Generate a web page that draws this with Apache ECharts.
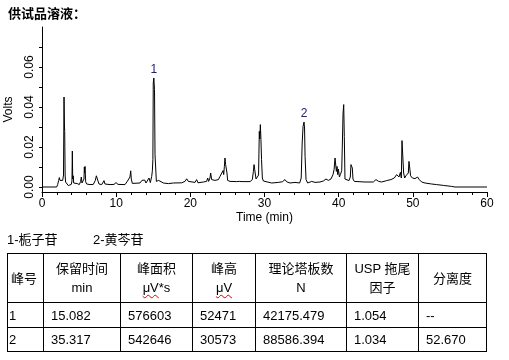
<!DOCTYPE html>
<html><head><meta charset="utf-8">
<script src="https://cdn.jsdelivr.net/npm/echarts@6/dist/echarts.min.js"></script>
<style>
html,body{margin:0;padding:0;background:#fff;}
#chart{position:absolute;left:0;top:0;width:509px;height:360px;}
.leg{position:absolute;top:231px;font:13px "Liberation Sans","Noto Sans CJK SC",sans-serif;line-height:18px;color:#000;white-space:nowrap;}
#tbl{position:absolute;left:7px;top:253px;border-collapse:collapse;table-layout:fixed;font:13px "Liberation Sans","Noto Sans CJK SC",sans-serif;color:#000;}
#tbl td{border:1px solid #000;padding:0 0 0 7px;white-space:nowrap;overflow:hidden;}
#tbl tr.h td{text-align:center;padding:0;line-height:19px;}
#tbl tr.h td.c0{text-align:left;padding-left:3px;}
#tbl td.c0{padding-left:1px;}
.wavy{text-decoration:underline wavy #e00000;text-decoration-thickness:1px;text-underline-offset:2px;}
</style>
</head><body>
<div id="chart"></div>
<div id="legA" class="leg" style="left:7px"></div>
<div id="legB" class="leg" style="left:93px"></div>
<table id="tbl"></table>
<script>
// ---- data ----
const titleText = '供试品溶液：';
const xTickLabels = [0, 10, 20, 30, 40, 50, 60];
const yTickLabels = [0.00, 0.02, 0.04, 0.06];
const yTickMarks = [0.00, 0.01, 0.02, 0.03, 0.04, 0.05, 0.06, 0.07];

const seg1 = [[0,0],[1.98,0],[2.11,0.0012],[2.25,0.0033],[2.34,0.0047],[2.43,0.0033],[2.52,0.0043],[2.61,0.003],[2.79,0.0033],[2.9,0.006],[2.97,0.045],[3.03,0.03],[3.06,0.0278],[3.12,0.006],[3.18,0.0025],[3.28,0.0015],[3.55,0.0007],[3.78,0.001],[3.95,0.0013],[4.04,0.003],[4.09,0.018],[4.14,0.004],[4.18,0.0035],[4.22,0.0056],[4.27,0.002],[4.31,0.0017],[4.76,0.0017],[5.03,0.0012],[5.21,0.0028],[5.30,0.005],[5.39,0.002],[5.57,0.0028],[5.66,0.004],[5.71,0.01],[5.75,0.007],[5.80,0.0103],[5.89,0.0026],[6.02,0.0015],[6.47,0.0012],[6.92,0.0013],[7.19,0.0033],[7.33,0.0056],[7.42,0.0061],[7.51,0.0035],[7.69,0.0015],[8.05,0.0012],[8.3,0.0015],[8.36,0.0032],[8.49,0.0015],[9.17,0.0012],[9.71,0.0013],[9.98,0.0022],[10.25,0.0013],[11.19,0.0012],[11.46,0.0026],[11.64,0.002],[11.86,0.005],[11.96,0.0081],[12.04,0.004],[12.18,0.0018],[13.21,0.002],[13.48,0.0033],[13.66,0.0043],[13.84,0.0035],[14.02,0.002],[14.25,0.0028],[14.43,0.0045],[14.61,0.0022],[14.79,0.0053],[14.88,0.0081],[14.95,0.0137]];
const seg2 = [[15.0,0.052],[15.08,0.0545],[15.17,0.0487],[15.24,0.0161],[15.33,0.0157],[15.42,0.0028],[15.55,0.0023],[15.73,0.0033],[15.87,0.0023],[16.36,0.002],[17.04,0.0017],[17.71,0.002],[18.83,0.0021],[19.28,0.0028],[19.51,0.0041],[19.73,0.0028],[19.96,0.002],[20.63,0.0023],[20.85,0.0037],[21.03,0.0021],[21.75,0.0025],[22.2,0.0028],[22.34,0.0045],[22.47,0.0028],[22.65,0.0045],[22.74,0.007],[22.88,0.0037],[23.33,0.0033],[23.55,0.004],[23.78,0.0037],[24.0,0.0053],[24.14,0.0062],[24.23,0.0045],[24.41,0.0082],[24.5,0.0062],[24.59,0.0103],[24.67,0.0145],[24.76,0.0112],[24.85,0.012],[24.94,0.007],[25.03,0.0033],[25.35,0.0028],[26.25,0.0027],[26.6,0.0028],[26.79,0.0035],[26.97,0.0027],[28.05,0.0027],[28.36,0.0037],[28.5,0.0078],[28.59,0.0112],[28.68,0.0087],[28.77,0.0078],[28.86,0.004],[29.04,0.0033],[29.2,0.006],[29.3,0.0278],[29.36,0.024],[29.44,0.0312],[29.52,0.0237],[29.6,0.0137],[29.71,0.0045],[29.85,0.003]];
const seg3 = [[30.07,0.002],[30.96,0.002],[31.86,0.0023],[32.4,0.0026],[32.76,0.0037],[32.99,0.0026],[33.44,0.002],[34.11,0.0023],[34.74,0.002],[34.95,0.0045],[35.08,0.022],[35.2,0.0303],[35.33,0.0325],[35.4,0.0295],[35.47,0.0153],[35.6,0.0037],[35.82,0.002],[36.36,0.0028],[36.54,0.0033],[36.81,0.0023],[37.48,0.0025],[37.93,0.003],[38.29,0.004],[38.61,0.0033],[38.96,0.004],[39.24,0.0062],[39.38,0.0087],[39.51,0.0145],[39.6,0.0137],[39.69,0.0078],[39.78,0.0103],[39.87,0.0062],[39.96,0.009],[40.1,0.005],[40.23,0.0062],[40.41,0.0082],[40.5,0.022],[40.59,0.0367],[40.68,0.0412],[40.76,0.0253],[40.85,0.004],[41.03,0.0032],[41.39,0.0032],[41.57,0.005],[41.66,0.0112],[41.75,0.0117],[41.84,0.0095],[41.93,0.004],[42.11,0.0028],[43.55,0.0025],[44.67,0.0025],[45.03,0.0037],[45.2,0.0042],[45.39,0.0028]];
const seg4 = [[45.8,0.0025],[46.47,0.0032],[47.05,0.0037],[47.5,0.0045],[47.82,0.0062],[47.95,0.0067],[48.13,0.005],[48.32,0.0073],[48.45,0.0045],[48.54,0.0232],[48.67,0.023],[48.76,0.007],[48.9,0.0045],[49.07,0.0056],[49.25,0.0062],[49.39,0.007],[49.48,0.0128],[49.61,0.0128],[49.7,0.0056],[49.93,0.0045],[50.29,0.0042],[50.65,0.005],[50.87,0.0037],[51.19,0.0025],[51.64,0.002],[52.54,0.0015],[53.21,0.0012],[54.11,0.0008],[55.23,0.0003],[55.68,0],[60,0]];

const peakNames = ['1', '2'];
const peakTimes = [15.08, 35.33];
const peakHeights = [0.0545, 0.0325];

const legendTexts = ['1-栀子苷', '2-黄芩苷'];
const headerLine1 = ['峰号', '保留时间', '峰面积', '峰高', '理论塔板数', 'USP 拖尾', '分离度'];
const headerLine2 = ['', 'min', 'μV*s', 'μV', 'N', '因子', ''];
const row1 = ['1', '15.082', '576603', '52471', '42175.479', '1.054', '--'];
const row2 = ['2', '35.317', '542646', '30573', '88586.394', '1.034', '52.670'];

// ---- layout ----
const colWidths = [36, 77, 72, 63, 91, 72, 68];
const signal = seg1.concat(seg2, seg3, seg4);

const chart = echarts.init(document.getElementById('chart'), null, {renderer: 'canvas'});
const font = '"Liberation Sans", Arial, sans-serif';
chart.setOption({
  animation: false,
  backgroundColor: '#fff',
  title: {text: titleText, left: 8, top: 7, padding: 0, textStyle: {fontSize: 13, fontWeight: 'bold', color: '#000', fontFamily: '"Noto Sans CJK SC"'}},
  grid: {left: 42, top: 27, width: 445, height: 165, containLabel: false, outerBoundsMode: 'none'},
  xAxis: {
    type: 'value', min: xTickLabels[0], max: xTickLabels[xTickLabels.length - 1], interval: 10,
    name: 'Time (min)', nameLocation: 'middle', nameGap: 20,
    nameTextStyle: {fontSize: 12, color: '#000', fontFamily: font},
    axisLine: {onZero: false, lineStyle: {color: '#000', width: 1}},
    axisTick: {show: true, length: 5, lineStyle: {color: '#000'}},
    minorTick: {show: true, splitNumber: 5, length: 3, lineStyle: {color: '#000'}},
    axisLabel: {fontSize: 12, color: '#000', margin: 6, fontFamily: font},
    splitLine: {show: false}, minorSplitLine: {show: false}
  },
  yAxis: {
    type: 'value', min: -0.0025, max: 0.08,
    name: 'Volts', nameLocation: 'middle', nameGap: 27,
    nameTextStyle: {fontSize: 12, color: '#000', fontFamily: font},
    axisLine: {show: true, lineStyle: {color: '#000', width: 1}},
    axisTick: {show: true, length: 3, customValues: yTickMarks, lineStyle: {color: '#000'}},
    axisLabel: {customValues: yTickLabels, rotate: 90, fontSize: 12, color: '#000', margin: 6, fontFamily: font,
      formatter: v => Number(v).toFixed(2)},
    splitLine: {show: false}
  },
  series: [{
    type: 'line', data: signal, showSymbol: false, symbol: 'none',
    lineStyle: {color: '#000', width: 1}, silent: true,
    markPoint: {
      symbol: 'circle', symbolSize: 0,
      data: peakNames.map((n, i) => ({name: n, coord: [peakTimes[i], peakHeights[i]]})),
      label: {show: true, position: 'top', distance: 2, formatter: p => p.name, color: '#22226e', fontSize: 12, fontFamily: font}
    }
  }]
});

// legend text
document.getElementById('legA').textContent = legendTexts[0];
document.getElementById('legB').textContent = legendTexts[1];

// table
const tbl = document.getElementById('tbl');
const cg = document.createElement('colgroup');
colWidths.forEach(w => { const c = document.createElement('col'); c.style.width = w + 'px'; cg.appendChild(c); });
tbl.appendChild(cg);
const hr = document.createElement('tr'); hr.className = 'h'; hr.style.height = '49px';
headerLine1.forEach((t, i) => {
  const td = document.createElement('td'); td.className = 'c' + i;
  td.appendChild(document.createTextNode(t));
  const l2 = headerLine2[i];
  if (l2) {
    td.appendChild(document.createElement('br'));
    if (l2.indexOf('μV') === 0) {
      const s = document.createElement('span'); s.className = 'wavy'; s.textContent = 'μV';
      td.appendChild(s);
      td.appendChild(document.createTextNode(l2.slice(2)));
    } else td.appendChild(document.createTextNode(l2));
  }
  hr.appendChild(td);
});
tbl.appendChild(hr);
[[row1, 25], [row2, 24]].forEach(([r, h]) => {
  const tr = document.createElement('tr'); tr.style.height = h + 'px';
  r.forEach((t, i) => { const td = document.createElement('td'); td.className = 'c' + i; td.textContent = t; tr.appendChild(td); });
  tbl.appendChild(tr);
});
</script>
</body></html>
